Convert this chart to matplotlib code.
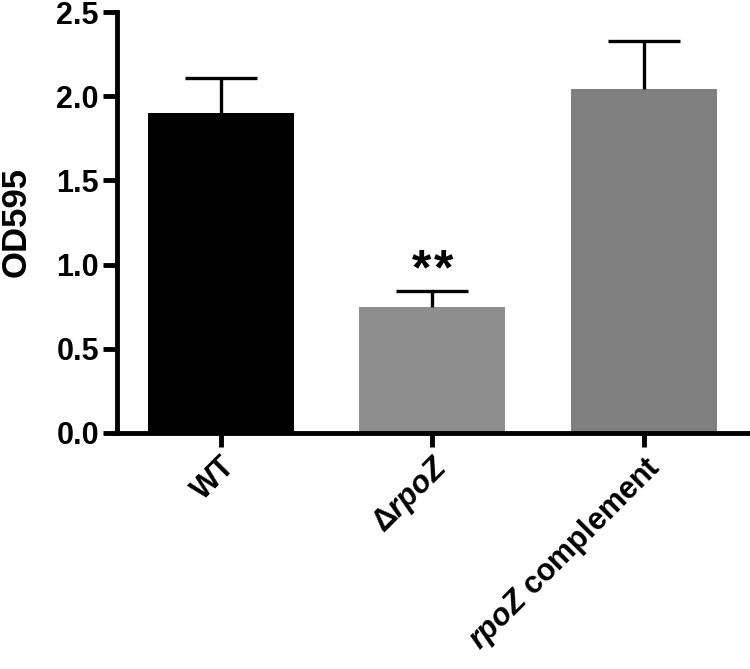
import matplotlib
matplotlib.use('Agg')
import matplotlib.pyplot as plt

plt.rcParams['font.family'] = ['Liberation Sans', 'DejaVu Sans']
plt.rcParams['font.weight'] = 'bold'
plt.rcParams['mathtext.fontset'] = 'custom'
plt.rcParams['mathtext.it'] = 'Liberation Sans:italic:bold'
plt.rcParams['mathtext.rm'] = 'Liberation Sans:bold'

# data
groups = ['WT', r'$\Delta\mathit{rpoZ}$', r'$\mathit{rpoZ}$ complement']
means = [1.90, 0.75, 2.04]
sem = [0.21, 0.09, 0.29]
colors = ['#000000', '#8e8e8e', '#808080']
yticks = [0.0, 0.5, 1.0, 1.5, 2.0, 2.5]

fig = plt.figure(figsize=(7.5, 6.69), dpi=100)
ax = fig.add_axes([0.156, 0.353, 0.844, 0.629])

x = list(range(len(groups)))
ax.bar(x, means, width=0.69, color=colors, zorder=2)

# only the upper half of the error bars, like GraphPad
tops = [m + s for m, s in zip(means, sem)]
ax.vlines(x, means, tops, color='black', lw=2.4, zorder=3)
ax.hlines(tops, [i - 0.17 for i in x], [i + 0.17 for i in x], color='black', lw=2.4, zorder=3)

# significance stars, a bit spread apart
for dx in (-0.052, 0.052):
    ax.text(x[1] + dx, tops[1] - 0.02, '*', ha='center', va='bottom', fontsize=36, fontweight='bold')

ax.set_xlim(-0.49, 2.5)
ax.set_ylim(0, 2.5)
ax.set_yticks(yticks)
ax.set_yticklabels(['%.1f' % t for t in yticks], fontsize=22, fontweight='bold')
ax.set_xticks(x)
ax.set_xticklabels(groups, rotation=45, ha='right', rotation_mode='anchor', fontsize=22, fontweight='bold')
ax.set_ylabel('OD595', fontsize=25, fontweight='bold', labelpad=17)

for s in ['top', 'right']:
    ax.spines[s].set_visible(False)
for s in ['left', 'bottom']:
    ax.spines[s].set_linewidth(3.5)
ax.tick_params(axis='both', width=3.5, length=10, pad=3)

fig.savefig('out.png', dpi=100)
